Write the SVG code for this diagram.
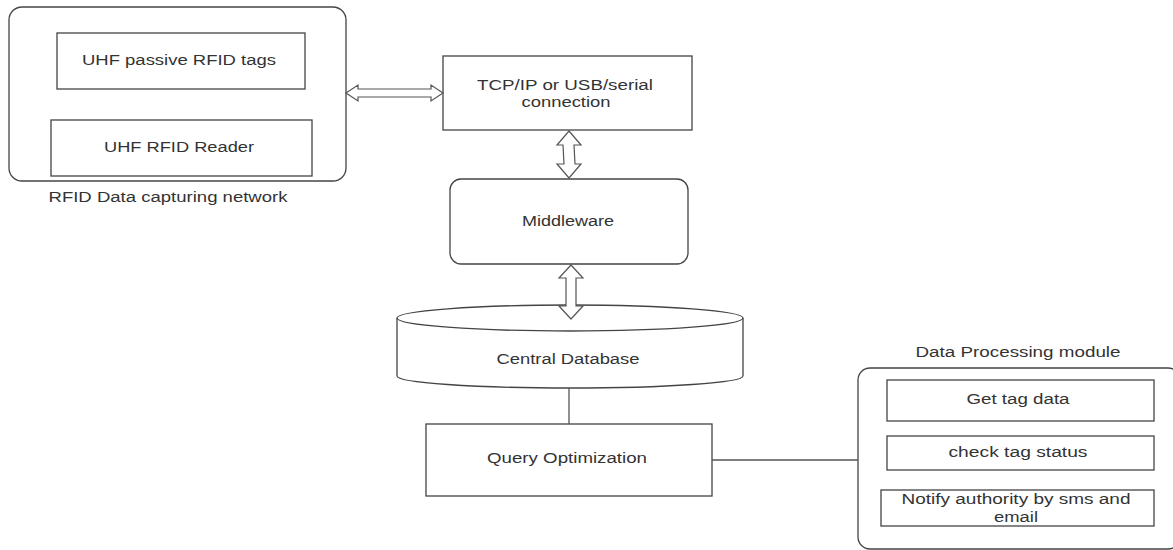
<svg xmlns="http://www.w3.org/2000/svg" width="1173" height="550" viewBox="0 0 1173 550">
<style>
.box{fill:#fff;stroke:#444;stroke-width:1.3}
.t{font-family:"Liberation Sans",Arial,sans-serif;font-size:14px;fill:#333;text-anchor:middle}
.ln{stroke:#555;stroke-width:1.3;fill:none}
.arr{fill:#fff;stroke:#555;stroke-width:1.2}
</style>
<rect width="1173" height="550" fill="#fff"/>
<g id="rfid-network">
<rect class="box" x="9" y="7" width="337" height="174" rx="13"/>
<text class="t" x="168" y="202" textLength="239" lengthAdjust="spacingAndGlyphs">RFID Data capturing network</text>
</g>
<g id="uhf-tags">
<rect class="box" x="57" y="33" width="248" height="56"/>
<text class="t" x="179" y="65" textLength="194" lengthAdjust="spacingAndGlyphs">UHF passive RFID tags</text>
</g>
<g id="uhf-reader">
<rect class="box" x="51" y="120" width="261" height="56"/>
<text class="t" x="179" y="152" textLength="150" lengthAdjust="spacingAndGlyphs">UHF RFID Reader</text>
</g>
<g id="tcp">
<rect class="box" x="443" y="56" width="249" height="74"/>
<text class="t" x="565" y="90" textLength="176" lengthAdjust="spacingAndGlyphs">TCP/IP or USB/serial</text>
<text class="t" x="566" y="107" textLength="89" lengthAdjust="spacingAndGlyphs">connection</text>
</g>
<g id="middleware">
<rect class="box" x="450" y="179" width="238" height="85" rx="11"/>
<text class="t" x="568" y="226" textLength="92" lengthAdjust="spacingAndGlyphs">Middleware</text>
</g>
<g id="central-db">
<path class="box" d="M397,318 L397,376 A173,12 0 0 0 743,376 L743,318"/>
<ellipse class="box" cx="570" cy="318" rx="173" ry="13"/>
<text class="t" x="568" y="364" textLength="143" lengthAdjust="spacingAndGlyphs">Central Database</text>
</g>
<g id="query">
<rect class="box" x="426" y="424" width="286" height="72"/>
<text class="t" x="567" y="463" textLength="160" lengthAdjust="spacingAndGlyphs">Query Optimization</text>
</g>
<g id="data-processing">
<rect class="box" x="858" y="368" width="322" height="181" rx="12"/>
<text class="t" x="1018" y="357" textLength="205" lengthAdjust="spacingAndGlyphs">Data Processing module</text>
</g>
<g id="get-tag">
<rect class="box" x="887" y="380" width="267" height="41"/>
<text class="t" x="1018" y="404" textLength="103" lengthAdjust="spacingAndGlyphs">Get tag data</text>
</g>
<g id="check-tag">
<rect class="box" x="887" y="436" width="267" height="34"/>
<text class="t" x="1018" y="457" textLength="139" lengthAdjust="spacingAndGlyphs">check tag status</text>
</g>
<g id="notify">
<rect class="box" x="881" y="490" width="273" height="36"/>
<text class="t" x="1016" y="504" textLength="229" lengthAdjust="spacingAndGlyphs">Notify authority by sms and</text>
<text class="t" x="1016" y="522" textLength="44" lengthAdjust="spacingAndGlyphs">email</text>
</g>
<g id="connectors">
<polygon class="arr" points="346,93 358,85 358,89 431,89 431,85 443,93 431,101 431,97 358,97 358,101"/>
<polygon class="arr" points="569,131 581,145 574,145 575,164 581,164 569,178 557,164 564,164 563,145 557,145"/>
<polygon class="arr" points="571,265 583,278 576,278 576,306 583,306 571,319 559,306 566,306 566,278 559,278"/>
<line class="ln" x1="569" y1="388" x2="569" y2="424"/>
<line class="ln" x1="712" y1="460" x2="858" y2="460"/>
</g>
</svg>
